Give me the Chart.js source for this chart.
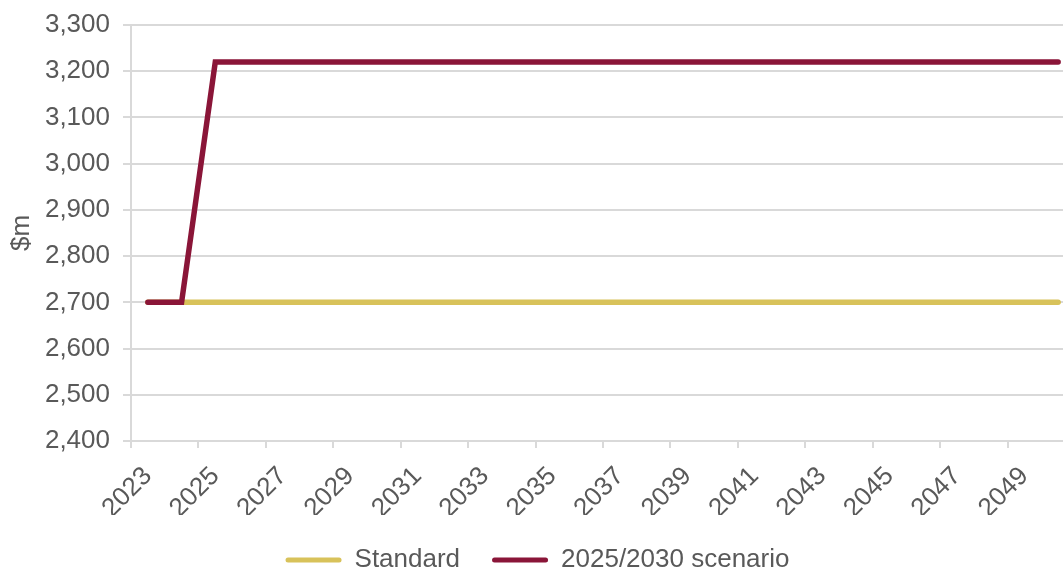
<!DOCTYPE html>
<html>
<head>
<meta charset="utf-8">
<script src="https://cdn.jsdelivr.net/npm/chart.js@4.4.1/dist/chart.umd.min.js"></script>
<style>
  html, body { margin: 0; padding: 0; background: #fff; }
  .chart-wrapper { width: 1063px; height: 572px; overflow: hidden; }
  .chart-wrapper canvas { display: block; }
</style>
</head>
<body>
<div class="chart-wrapper">
  <canvas id="costChart" width="1083" height="572"></canvas>
</div>
<script>
const years = ['2023', '2024', '2025', '2026', '2027', '2028', '2029', '2030', '2031', '2032',
  '2033', '2034', '2035', '2036', '2037', '2038', '2039', '2040', '2041', '2042',
  '2043', '2044', '2045', '2046', '2047', '2048', '2049', '2050'];

const standard = [2700, 2700, 2700, 2700, 2700, 2700, 2700, 2700, 2700, 2700,
  2700, 2700, 2700, 2700, 2700, 2700, 2700, 2700, 2700, 2700,
  2700, 2700, 2700, 2700, 2700, 2700, 2700, 2700];

const scenario = [2700, 2700, 3220, 3220, 3220, 3220, 3220, 3220, 3220, 3220,
  3220, 3220, 3220, 3220, 3220, 3220, 3220, 3220, 3220, 3220,
  3220, 3220, 3220, 3220, 3220, 3220, 3220, 3220];

const seriesNames = ['Standard', '2025/2030 scenario'];
const yTicks = { min: 2400, max: 3300, step: 100 };

const GOLD = '#d8c25a';
const MAROON = '#8a1538';
const GRID = '#d9d9d9';
const TEXT = '#595959';
const FONT = { family: '"Liberation Sans", Arial, sans-serif', size: 26 };

Chart.defaults.color = TEXT;
Chart.defaults.font.family = FONT.family;
Chart.defaults.font.size = FONT.size;

// only every other category boundary gets a tick mark
const everyOther = (ctx) => (ctx.index % 2 === 0 ? GRID : 'rgba(0,0,0,0)');

new Chart(document.getElementById('costChart'), {
  type: 'line',
  data: {
    labels: years,
    datasets: [
      {
        label: seriesNames[0],
        data: standard,
        borderColor: GOLD,
        backgroundColor: GOLD,
        borderWidth: 5.5,
        borderCapStyle: 'round',
        pointRadius: 0,
        order: 2
      },
      {
        label: seriesNames[1],
        data: scenario,
        borderColor: MAROON,
        backgroundColor: MAROON,
        borderWidth: 5.5,
        borderCapStyle: 'round',
        pointRadius: 0,
        order: 1
      }
    ]
  },
  options: {
    responsive: false,
    animation: false,
    layout: { padding: { top: 25, right: 8, bottom: -11, left: 0 } },
    plugins: {
      tooltip: { enabled: false },
      legend: {
        position: 'bottom',
        labels: {
          boxWidth: 56,
          boxHeight: 5,
          padding: 32,
          useBorderRadius: true,
          borderRadius: 2.5,
          font: FONT,
          generateLabels: (chart) => chart.data.datasets.map((ds, i) => ({
            text: ds.label,
            fillStyle: ds.borderColor,
            strokeStyle: ds.borderColor,
            lineWidth: 0,
            borderRadius: 2.5,
            fontColor: TEXT,
            datasetIndex: i
          }))
        }
      }
    },
    scales: {
      x: {
        offset: true,
        afterFit: (scale) => {
          scale.height = 74;
          scale.paddingLeft = 0;
          scale.paddingRight = 0;
        },
        grid: {
          offset: true,
          drawOnChartArea: false,
          color: everyOther,
          tickColor: everyOther,
          lineWidth: 2,
          tickLength: 7
        },
        border: { color: GRID, width: 2 },
        ticks: {
          autoSkip: false,
          minRotation: 45,
          maxRotation: 45,
          padding: 13,
          font: FONT,
          callback: function (value, index) {
            return index % 2 === 0 ? this.getLabelForValue(value) : '';
          }
        }
      },
      y: {
        min: yTicks.min,
        max: yTicks.max,
        afterFit: (scale) => {
          scale.width = 131;
          scale.paddingTop = 0;
          scale.paddingBottom = 0;
        },
        grid: { color: GRID, lineWidth: 2, tickLength: 8 },
        border: { color: GRID, width: 2 },
        ticks: {
          stepSize: yTicks.step,
          padding: 13,
          font: FONT,
          callback: (v) => v.toLocaleString('en-US')
        },
        title: {
          display: true,
          text: '$m',
          font: FONT,
          padding: { top: 6, bottom: 0 }
        }
      }
    }
  }
});
</script>
</body>
</html>
